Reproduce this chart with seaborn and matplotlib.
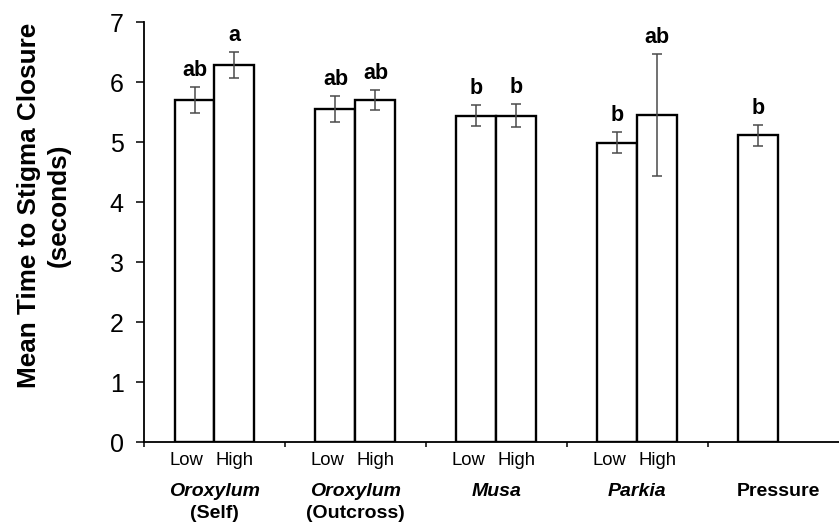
import matplotlib
matplotlib.use("Agg")
import matplotlib.pyplot as plt
import pandas as pd
import seaborn as sns

sns.set_theme(style="white")
plt.rcParams["font.family"] = ["Liberation Sans", "DejaVu Sans"]
plt.rcParams["text.color"] = "black"
plt.rcParams["axes.labelcolor"] = "black"
plt.rcParams["xtick.color"] = "black"
plt.rcParams["ytick.color"] = "black"

# Pollen source / treatment groups along the x axis
group_keys = ["Oroxylum (Self)", "Oroxylum (Outcross)", "Musa", "Parkia", "Pressure"]
group_names = ["Oroxylum", "Oroxylum", "Musa", "Parkia", "Pressure"]
group_notes = ["(Self)", "(Outcross)", "", "", ""]
group_italic = [True, True, True, True, False]
level_order = ["Low", "High"]

# One entry per bar
bar_group = ["Oroxylum (Self)", "Oroxylum (Self)",
             "Oroxylum (Outcross)", "Oroxylum (Outcross)",
             "Musa", "Musa", "Parkia", "Parkia", "Pressure"]
bar_level = ["Low", "High", "Low", "High", "Low", "High", "Low", "High", "Low"]
mean_time = [5.70, 6.28, 5.55, 5.70, 5.44, 5.44, 4.99, 5.45, 5.11]
sem_time = [0.22, 0.22, 0.22, 0.17, 0.17, 0.19, 0.18, 1.02, 0.17]
letters = ["ab", "a", "ab", "ab", "b", "b", "b", "ab", "b"]

y_ticks = [0, 1, 2, 3, 4, 5, 6, 7]

df = pd.DataFrame({"group": bar_group, "level": bar_level,
                   "mean": mean_time, "sem": sem_time, "letter": letters})

W, H = 839, 527
fig = plt.figure(figsize=(W / 100, H / 100), dpi=100)
ax = fig.add_axes([144 / W, 85 / H, 1 - 144 / W, 420 / H])

bar_width = 0.567
sns.barplot(data=df, x="group", y="mean", hue="level",
            order=group_keys, hue_order=level_order,
            width=bar_width, dodge=True, errorbar=None,
            palette={"Low": "white", "High": "white"}, saturation=1,
            edgecolor="black", linewidth=1.7, legend=False, ax=ax)

# Error bars and significance letters
for _, row in df.iterrows():
    i = group_keys.index(row["group"])
    off = (-1 if row["level"] == "Low" else 1) * bar_width / 4
    x = i + off
    ax.errorbar(x, row["mean"], yerr=row["sem"], fmt="none",
                ecolor="#4a4a4a", elinewidth=1.1, capsize=3.3, capthick=1.1,
                zorder=3)
    ax.annotate(row["letter"], (x, row["mean"] + row["sem"]),
                xytext=(0, 8), textcoords="offset points",
                ha="center", va="baseline", fontsize=15.5, fontweight="bold")

# Axes styling
ax.set_ylim(0, 7)
ax.set_xlim(-0.5, 4.43)
ax.set_yticks(y_ticks)
ax.set_yticklabels([str(t) for t in y_ticks])
ax.set_xticks([-0.5, 0.5, 1.5, 2.5, 3.5])
ax.set_xticklabels([])
ax.set_xlabel("")
for side in ("top", "right"):
    ax.spines[side].set_visible(False)
for side in ("left", "bottom"):
    ax.spines[side].set_color("black")
    ax.spines[side].set_linewidth(1.3)
ax.tick_params(axis="y", direction="out", length=6, width=1.1,
               labelsize=18, pad=8.5, colors="black", left=True)
ax.tick_params(axis="x", direction="out", length=3.5, width=1.1,
               colors="black", bottom=True)

ax.set_ylabel("Mean Time to Stigma Closure\n(seconds)", fontsize=18.8,
              fontweight="bold", va="center", linespacing=1.3)
ax.yaxis.set_label_coords(-0.144, 0.564)

# Category labels under the axis
xt = ax.get_xaxis_transform()
for i, key in enumerate(group_keys):
    levels = df.loc[df["group"] == key, "level"].tolist()
    if len(levels) == 2:
        ax.text(i - bar_width / 4 - 0.055, -0.045, "Low", transform=xt,
                ha="center", va="center", fontsize=13.3)
        ax.text(i + bar_width / 4, -0.045, "High", transform=xt,
                ha="center", va="center", fontsize=13.3)
    ax.text(i, -0.118, group_names[i], transform=xt, ha="center", va="center",
            fontsize=14, fontweight="bold",
            fontstyle="italic" if group_italic[i] else "normal")
    if group_notes[i]:
        ax.text(i, -0.17, group_notes[i], transform=xt, ha="center",
                va="center", fontsize=14, fontweight="bold")

fig.savefig("out.png", dpi=100)
